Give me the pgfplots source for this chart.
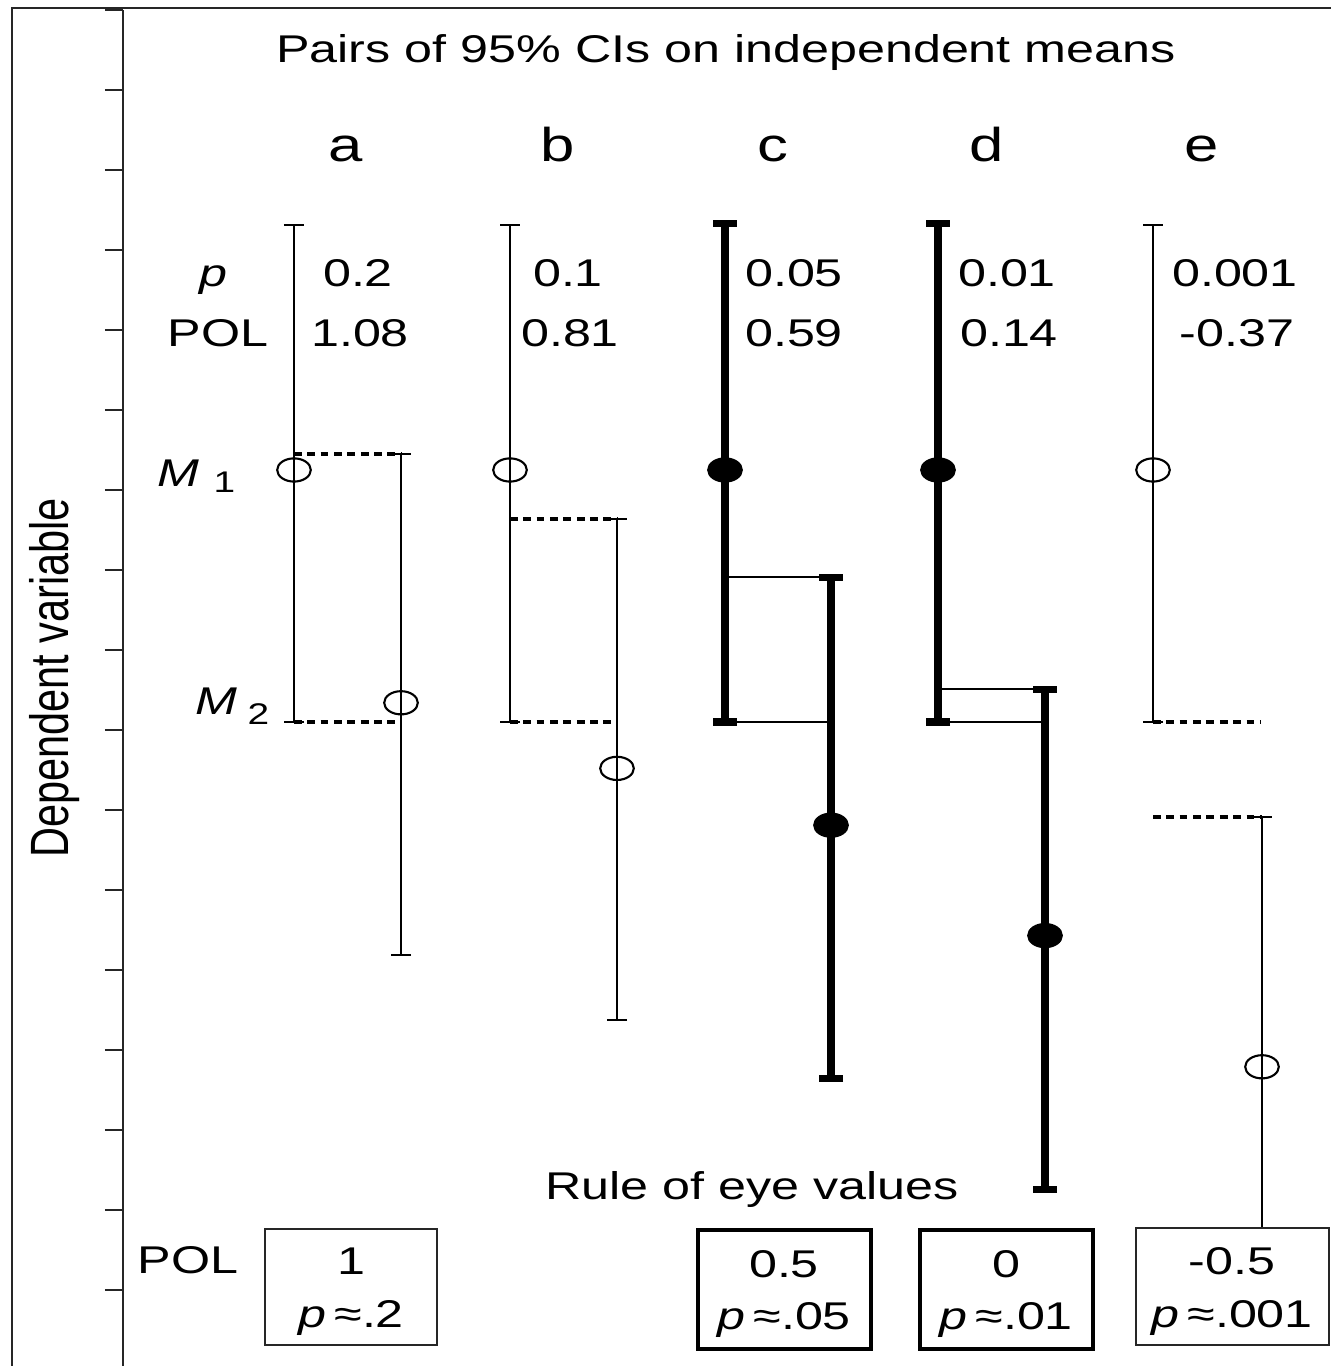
\documentclass[border=0pt]{standalone}
\usepackage{fontspec}
\setmainfont{Liberation Sans}
\usepackage{graphicx}
\usepackage{pgfplots}
\pgfplotsset{compat=1.18}
\newcommand\sx[1]{\scalebox{1.3}[1]{#1}}
\pgfplotsset{
  thinci/.style={black, only marks, line width=0.57pt, mark=o, mark size=3.3pt,
    mark options={xscale=1.45, fill=white, line width=0.6pt},
    error bars/.cd, y dir=both, y explicit, error mark=-,
    error bar style={line width=0.57pt, black},
    error mark options={rotate=90, line width=0.57pt, mark size=0.1cm, black}},
  thickci/.style={black, only marks, line width=2.3pt, mark=*, mark size=3.3pt,
    mark options={xscale=1.45, fill=black, line width=0.6pt},
    error bars/.cd, y dir=both, y explicit, error mark=-,
    error bar style={line width=2.4pt, black},
    error mark options={rotate=90, line width=2pt, mark size=0.12cm, black}},
  dotln/.style={black, line width=1pt, dash pattern=on 2.2pt off 1.6pt, mark=none},
  solln/.style={black, line width=0.45pt, mark=none},
}
\begin{document}
\begin{tikzpicture}[
  txt/.style={font=\fontsize{11}{13}\selectfont, inner sep=0pt, anchor=base},
  big/.style={font=\fontsize{13.5}{15}\selectfont, inner sep=0pt, anchor=base},
  sub/.style={font=\fontsize{8.5}{10}\selectfont, inner sep=0pt, anchor=base west},
]
\begin{axis}[name=ax, width=12.08cm, height=13.56cm, scale only axis,
  xmin=123, xmax=1331, ymin=-0.95, ymax=16,
  axis x line=none, axis y line=left,
  axis line style={-, line width=0.7pt, black!85},
  ytick={0,1,...,16}, yticklabels={}, xtick=\empty,
  tick align=outside, major tick length=0.18cm,
  tick style={line width=0.55pt, black!85},
  clip=false]

% connecting lines
\addplot[dotln] coordinates {(294,10.45) (401,10.45)};
\addplot[dotln] coordinates {(294,7.10) (401,7.10)};
\addplot[dotln] coordinates {(510,9.64) (617,9.64)};
\addplot[dotln] coordinates {(510,7.10) (617,7.10)};
\addplot[solln] coordinates {(725,8.91) (831,8.91)};
\addplot[solln] coordinates {(725,7.10) (831,7.10)};
\addplot[solln] coordinates {(938,7.51) (1045,7.51)};
\addplot[solln] coordinates {(938,7.10) (1045,7.10)};
\addplot[dotln] coordinates {(1153,7.10) (1260,7.10)};
\addplot[dotln] coordinates {(1153,5.91) (1262,5.91)};

% CIs
\addplot[thinci] coordinates {(294,10.25) += (0,3.06) -= (0,3.15)};
\addplot[thinci] coordinates {(401,7.34) += (0,3.11) -= (0,3.15)};
\addplot[thinci] coordinates {(510,10.25) += (0,3.06) -= (0,3.15)};
\addplot[thinci] coordinates {(617,6.52) += (0,3.12) -= (0,3.15)};
\addplot[thickci] coordinates {(725,10.25) += (0,3.08) -= (0,3.15)};
\addplot[thickci] coordinates {(831,5.81) += (0,3.10) -= (0,3.17)};
\addplot[thickci] coordinates {(938,10.25) += (0,3.08) -= (0,3.15)};
\addplot[thickci] coordinates {(1045,4.43) += (0,3.08) -= (0,3.17)};
\addplot[thinci] coordinates {(1153,10.25) += (0,3.06) -= (0,3.15)};
\addplot[thinci] coordinates {(1262,2.79) += (0,3.12) -= (0,3.13)};

% frame
\draw[line width=0.6pt, black!85] (axis cs:12,-0.95) -- (axis cs:12,16.025) -- (axis cs:1331,16.025);

% texts
\node[txt] at (axis cs:726,15.3375) {\sx{Pairs of 95\% CIs on independent means}};
\node[big] at (axis cs:346,14.1) {\sx{a}};
\node[big] at (axis cs:558,14.1) {\sx{b}};
\node[big] at (axis cs:773,14.1) {\sx{c}};
\node[big] at (axis cs:987,14.1) {\sx{d}};
\node[big] at (axis cs:1202,14.1) {\sx{e}};

\node[txt] at (axis cs:213,12.5375) {\sx{\textit{p}}};
\node[txt] at (axis cs:218,11.7875) {\sx{POL}};
\node[txt] at (axis cs:358,12.5375) {\sx{0.2}};
\node[txt] at (axis cs:360,11.7875) {\sx{1.08}};
\node[txt] at (axis cs:568,12.5375) {\sx{0.1}};
\node[txt] at (axis cs:570,11.7875) {\sx{0.81}};
\node[txt] at (axis cs:794,12.5375) {\sx{0.05}};
\node[txt] at (axis cs:794,11.7875) {\sx{0.59}};
\node[txt] at (axis cs:1007,12.5375) {\sx{0.01}};
\node[txt] at (axis cs:1009,11.7875) {\sx{0.14}};
\node[txt] at (axis cs:1235,12.5375) {\sx{0.001}};
\node[txt] at (axis cs:1237,11.7875) {\sx{-0.37}};

\node[txt, anchor=base west] at (axis cs:157,10.04) {\sx{\textit{M}}};
\node[sub] at (axis cs:213,9.9625) {\sx{1}};
\node[txt, anchor=base west] at (axis cs:195,7.19) {\sx{\textit{M}}};
\node[sub] at (axis cs:247,7.0625) {\sx{2}};

\node[rotate=90, font=\fontsize{11.8}{14}\selectfont, inner sep=0pt] at (axis cs:55,7.65) {\scalebox{1}[1.3]{Dependent variable}};

\node[txt] at (axis cs:752,1.125) {\sx{Rule of eye values}};
\node[txt] at (axis cs:188,0.2125) {\sx{POL}};

% boxes
\draw[line width=0.6pt, black!85, fill=white] (axis cs:265,0.7625) rectangle (axis cs:437,-0.6875);
\draw[line width=1.4pt, black, fill=white] (axis cs:698,0.75) rectangle (axis cs:871,-0.7375);
\draw[line width=1.4pt, black, fill=white] (axis cs:920,0.75) rectangle (axis cs:1093,-0.7375);
\draw[line width=0.6pt, black!85, fill=white] (axis cs:1136,0.775) rectangle (axis cs:1329,-0.6875);

\node[txt] at (axis cs:351,0.1875) {\sx{1}};
\node[txt] at (axis cs:351,-0.475) {\sx{\textit{p}\,≈.2}};
\node[txt] at (axis cs:784,0.15) {\sx{0.5}};
\node[txt] at (axis cs:784,-0.5) {\sx{\textit{p}\,≈.05}};
\node[txt] at (axis cs:1006,0.15) {\sx{0}};
\node[txt] at (axis cs:1006,-0.5) {\sx{\textit{p}\,≈.01}};
\node[txt] at (axis cs:1232,0.1875) {\sx{-0.5}};
\node[txt] at (axis cs:1232,-0.475) {\sx{\textit{p}\,≈.001}};
\end{axis}
\pgfresetboundingbox
\path ([xshift=-1.23cm]ax.south west) rectangle ([yshift=0.1cm]ax.north east);
\end{tikzpicture}
\end{document}
